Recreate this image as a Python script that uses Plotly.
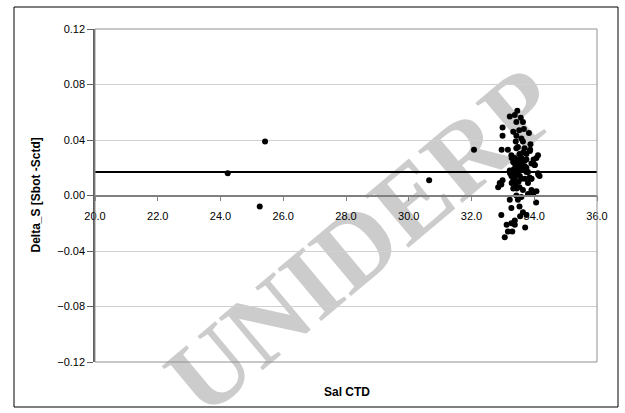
import plotly.graph_objects as go

# Isolated stations
iso_x = [24.23, 25.25, 25.42, 30.65, 32.08]
iso_y = [0.016, -0.008, 0.039, 0.011, 0.033]

# Dense cluster near Sal 33-34
clu_x = [33.46, 33.22, 33.38, 33.57, 33.64, 33.43, 32.99, 33.33, 33.52, 33.67,
         33.83, 32.99, 33.43, 33.59, 33.41, 33.64, 33.48, 33.88, 32.96, 33.16,
         33.69, 33.87, 33.27, 33.53, 33.75, 34.12, 33.38, 33.59, 33.98, 33.33,
         33.48, 33.69, 33.91, 33.41, 33.62, 34.01, 33.22, 33.52, 33.75, 34.12,
         33.27, 33.38, 33.85, 34.17, 32.99, 32.90, 33.33, 33.59, 33.91, 33.33,
         33.53, 33.64, 33.80, 33.96, 33.43, 33.22, 33.48, 33.59, 34.06, 33.27,
         33.53, 33.64, 33.55, 32.95, 33.75, 33.38, 33.27, 33.12, 33.38, 33.71,
         33.16, 33.30, 33.06,
         33.43, 33.86, 34.07, 34.02, 33.28, 33.38, 33.59, 33.75, 33.49, 33.70,
         33.80, 34.13, 33.23, 33.38, 33.54, 33.91, 33.28, 32.95, 32.85, 33.44,
         33.80, 33.91, 34.07,
         33.50, 33.60, 33.45, 33.70, 33.55, 33.65, 33.40, 33.50, 33.75, 33.35]
clu_y = [0.061, 0.057, 0.058, 0.056, 0.053, 0.053, 0.049, 0.046, 0.047, 0.048,
         0.045, 0.043, 0.043, 0.041, 0.039, 0.039, 0.035, 0.037, 0.033, 0.033,
         0.034, 0.033, 0.029, 0.030, 0.030, 0.029, 0.027, 0.027, 0.026, 0.024,
         0.024, 0.025, 0.023, 0.021, 0.021, 0.022, 0.018, 0.018, 0.017, 0.016,
         0.014, 0.015, 0.013, 0.014, 0.011, 0.009, 0.011, 0.012, 0.012, 0.005,
         0.006, 0.004, 0.001, 0.001, 0.000, -0.003, -0.003, -0.001, -0.005, -0.009,
         -0.008, -0.012, -0.015, -0.014, -0.014, -0.018, -0.020, -0.021, -0.021, -0.023,
         -0.026, -0.026, -0.030,
         0.034, 0.032, 0.027, 0.022, 0.027, 0.023, 0.024, 0.026, 0.020, 0.021,
         0.017, 0.015, 0.016, 0.012, 0.014, 0.012, 0.009, 0.008, 0.006, 0.005,
         0.009, 0.004, 0.003,
         0.026, 0.019, 0.016, 0.012, 0.022, 0.031, 0.008, 0.010, 0.020, 0.019]

mean_value = 0.017
x_range = [20, 36]
y_range = [-0.12, 0.12]

fig = go.Figure()
fig.add_trace(go.Scatter(x=x_range, y=[mean_value, mean_value], mode="lines",
                         line=dict(color="black", width=2), hoverinfo="skip",
                         showlegend=False))
fig.add_trace(go.Scatter(x=iso_x + clu_x, y=iso_y + clu_y, mode="markers",
                         marker=dict(color="black", size=6), showlegend=False))

L, R, T, B = 95, 28, 29, 51
W, H = 625, 413
pw, ph = W - L - R, H - T - B

def px(xp):
    return (xp - L) / pw

def py(yp):
    return (H - B - yp) / ph

fig.update_layout(
    width=W, height=H,
    margin=dict(l=L, r=R, t=T, b=B),
    paper_bgcolor="white", plot_bgcolor="white",
    font=dict(family="Liberation Sans, Arial", size=11, color="black"),
    xaxis=dict(range=x_range, dtick=2, tick0=20, tickformat=".1f",
               showgrid=False, zeroline=False, showline=True,
               linecolor="#808080", linewidth=1.5,
               ticks="outside", ticklen=5, tickcolor="#808080",
               anchor="free", position=0.5, ticklabelstandoff=6),
    yaxis=dict(range=y_range, dtick=0.04, tick0=-0.12, tickformat=".2f",
               showgrid=True, gridcolor="#d0d0d0", gridwidth=1,
               zeroline=False, showline=True, linecolor="#606060",
               linewidth=1.5, ticks="outside", ticklen=6, tickcolor="#606060"),
    shapes=[
        dict(type="rect", xref="paper", yref="paper", x0=0, x1=1, y0=0, y1=1,
             line=dict(color="#909090", width=1), fillcolor="rgba(0,0,0,0)",
             layer="above"),
        dict(type="rect", xref="paper", yref="paper",
             x0=px(14), x1=px(618), y0=py(407), y1=py(7),
             line=dict(color="black", width=1), fillcolor="rgba(0,0,0,0)"),
        dict(type="rect", xref="paper", yref="paper",
             x0=px(355) - 0.1, x1=px(355) + 0.1,
             y0=py(232) - 0.1, y1=py(232) + 0.1,
             line=dict(width=0), fillcolor="rgba(0,0,0,0)", layer="below",
             label=dict(text="UNIDERP", textangle=-40,
                        textposition="middle center",
                        font=dict(family="Liberation Serif", size=104,
                                  color="#cccccc", weight="bold"))),
    ],
    annotations=[
        dict(text="<b>Delta_S [Sbot -Sctd]</b>", xref="paper", yref="paper",
             x=px(35), y=0.5, textangle=-90, showarrow=False,
             font=dict(size=12), xanchor="center", yanchor="middle"),
        dict(text="<b>Sal CTD</b>", xref="paper", yref="paper",
             x=px(347), y=py(392), showarrow=False, font=dict(size=12),
             xanchor="center", yanchor="middle"),
    ],
)

fig.write_html("out.html", config={"displayModeBar": False},
               post_script="document.body.style.margin='0px';")
